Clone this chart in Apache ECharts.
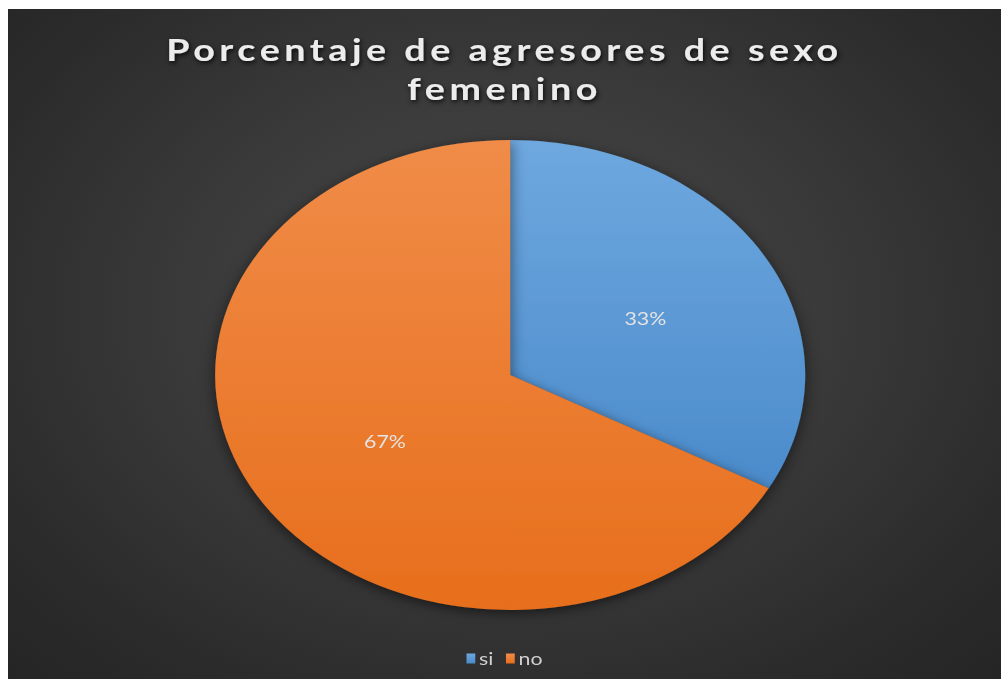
<!DOCTYPE html>
<html>
<head>
<meta charset="utf-8">
<title>Porcentaje de agresores de sexo femenino</title>
<script src="https://cdn.jsdelivr.net/npm/echarts@6/dist/echarts.min.js"></script>
<style>
    html, body {
        margin: 0;
        padding: 0;
        background: #fff;
        overflow: hidden;
    }

    #wrap {
        position: absolute;
        left: 8px;
        top: 9px;
        width: 993px;
        height: 670px;
        overflow: hidden;
        background: radial-gradient(ellipse at 50% 45%, #4a4a4a 0%, #3a3a3a 45%, #2b2b2b 80%, #252525 100%);
    }

    /* the original picture is stretched sideways, so the whole chart is too */
    #chart {
        width: 791px;
        height: 670px;
        transform: scaleX(1.2554);
        transform-origin: 0 0;
    }

    /* spaced-out title letters */
    #chart text[style*="30px"] {
        letter-spacing: 3.6px;
    }
</style>
</head>
<body>
<div id="wrap">
    <div id="chart"></div>
</div>
<script>
    var titleText = 'Porcentaje de agresores de sexo\nfemenino';
    var categories = ['si', 'no'];
    var percents = [33, 67];

    var colors = [
        {top: '#6ea8df', bottom: '#4b8bcb'},
        {top: '#f08c48', bottom: '#e76e1c'}
    ];

    var dom = document.getElementById('chart');
    var myChart = echarts.init(dom, null, {renderer: 'svg'});

    var data = [];
    for (var i = 0; i < categories.length; i++) {
        data.push({
            name: categories[i],
            value: percents[i],
            itemStyle: {
                color: {
                    type: 'linear',
                    x: 0,
                    y: 0,
                    x2: 0,
                    y2: 1,
                    colorStops: [
                        {offset: 0, color: colors[i].top},
                        {offset: 1, color: colors[i].bottom}
                    ]
                }
            }
        });
    }

    var option = {
        animation: false,
        backgroundColor: 'transparent',
        title: {
            text: titleText,
            left: 'center',
            top: 16,
            textStyle: {
                color: '#ececec',
                fontFamily: 'Lato',
                fontWeight: 'bold',
                fontSize: 30,
                lineHeight: 39,
                textShadowColor: 'rgba(0, 0, 0, 0.85)',
                textShadowBlur: 4,
                textShadowOffsetX: 1,
                textShadowOffsetY: 2
            }
        },
        legend: {
            data: categories,
            left: 'center',
            top: 636,
            icon: 'rect',
            itemWidth: 7,
            itemHeight: 10,
            itemGap: 10,
            textStyle: {
                color: '#d0d0d0',
                fontFamily: 'Lato',
                fontSize: 17,
                padding: [0, 0, 0, -2]
            }
        },
        tooltip: {
            show: false
        },
        series: [{
            type: 'pie',
            center: [400, 366],
            radius: [0, 235],
            startAngle: 90,
            clockwise: true,
            avoidLabelOverlap: false,
            emphasis: {
                disabled: true
            },
            itemStyle: {
                borderWidth: 0,
                shadowColor: 'rgba(0, 0, 0, 0.55)',
                shadowBlur: 12,
                shadowOffsetY: 3
            },
            label: {
                show: true,
                position: 'inside',
                formatter: '{d}%',
                color: '#e4e4e4',
                fontFamily: 'Lato',
                fontSize: 17,
                offset: [4, 5]
            },
            labelLine: {
                show: false
            },
            data: data
        }]
    };

    myChart.setOption(option, true);
</script>
</body>
</html>
